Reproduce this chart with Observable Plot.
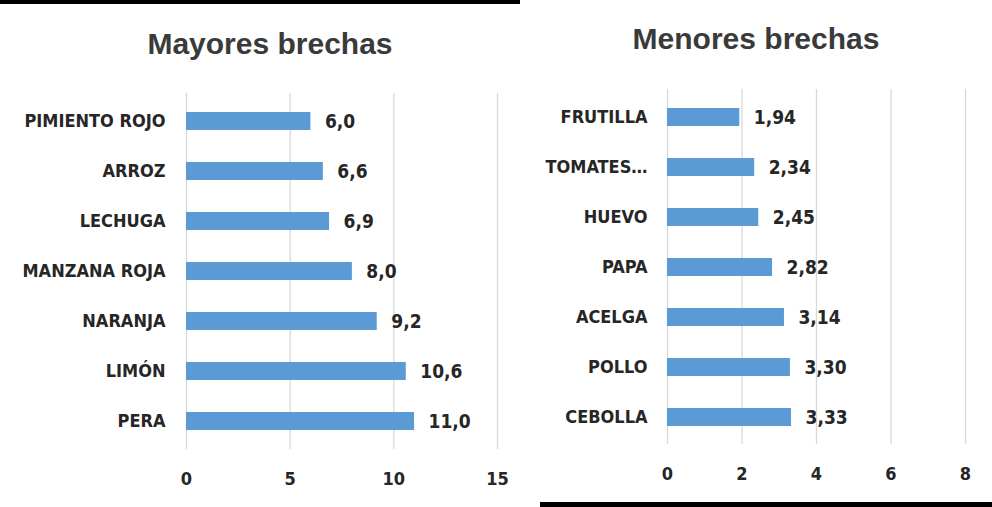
<!DOCTYPE html>
<html>
<head>
<meta charset="utf-8">
<script src="https://cdn.jsdelivr.net/npm/d3@7"></script>
<script src="https://cdn.jsdelivr.net/npm/@observablehq/plot@0.6"></script>
<style>
  html, body { margin: 0; padding: 0; background: #fff; }
  #wrap { position: relative; width: 992px; height: 507px; overflow: hidden; background: #fff; }
  .title { position: absolute; font-family: "Liberation Sans", Arial, sans-serif; font-weight: bold;
           font-size: 30px; line-height: 30px; color: #3a3a3a; white-space: nowrap; transform: translateX(-50%); }
  .chart { position: absolute; top: 0; }
  .bar { position: absolute; background: #000; }
</style>
</head>
<body>
<div id="wrap">
  <div class="bar" style="left:0;top:0;width:520px;height:4px"></div>
  <div class="bar" style="left:540px;top:502px;width:452px;height:5px"></div>
  <div class="title" id="t1" style="left:270px;top:29px"></div>
  <div class="title" id="t2" style="left:756px;top:24px"></div>
  <div class="chart" id="c1" style="left:0"></div>
  <div class="chart" id="c2" style="left:530px"></div>
</div>
<script>
// ---- Data ----
const titleMayores = "Mayores brechas";
const titleMenores = "Menores brechas";

const mayoresCategories = ["PIMIENTO ROJO", "ARROZ", "LECHUGA", "MANZANA ROJA", "NARANJA", "LIMÓN", "PERA"];
const mayoresValues = [6.0, 6.6, 6.9, 8.0, 9.2, 10.6, 11.0];
const mayoresLabels = ["6,0", "6,6", "6,9", "8,0", "9,2", "10,6", "11,0"];
const mayoresTicks = [0, 5, 10, 15];

const menoresCategories = ["FRUTILLA", "TOMATES…", "HUEVO", "PAPA", "ACELGA", "POLLO", "CEBOLLA"];
const menoresValues = [1.94, 2.34, 2.45, 2.82, 3.14, 3.30, 3.33];
const menoresLabels = ["1,94", "2,34", "2,45", "2,82", "3,14", "3,30", "3,33"];
const menoresTicks = [0, 2, 4, 6, 8];

// ---- Styles ----
const barColor = "#5B9BD5";
const gridColor = "#d9d9d9";
const textColor = "#262626";
const font = "'Liberation Sans Narrow', 'DejaVu Sans Condensed', 'Arial Narrow', sans-serif";

document.getElementById("t1").textContent = titleMayores;
document.getElementById("t2").textContent = titleMenores;

function makeChart({cats, vals, labels, ticks, domainMax, width, height, mL, mR, mT, mB, yPad, xPad}) {
  const data = cats.map((c, i) => ({cat: c, value: vals[i], label: labels[i]}));
  return Plot.plot({
    width, height,
    marginLeft: mL, marginRight: mR, marginTop: mT, marginBottom: mB,
    style: {fontFamily: font, fontWeight: "bold", fontSize: "18px", color: textColor, background: "transparent"},
    x: {domain: [0, domainMax], ticks: ticks},
    y: {domain: cats, paddingInner: 0.64, paddingOuter: 0.32},
    marks: [
      Plot.gridX(ticks, {stroke: gridColor, strokeOpacity: 1, strokeWidth: 1.3}),
      Plot.barX(data, {x: "value", y: "cat", fill: barColor}),
      Plot.text(data, {x: "value", y: "cat", text: "label", textAnchor: "start", dx: 14, fill: textColor, fontSize: 19, fontWeight: "bold"}),
      Plot.axisX({ticks: ticks, tickSize: 0, tickPadding: xPad, label: null, fontSize: 18, tickFormat: d => String(d)}),
      Plot.axisY({tickSize: 0, tickPadding: yPad, label: null, fontSize: 18})
    ]
  });
}

document.getElementById("c1").append(makeChart({
  cats: mayoresCategories, vals: mayoresValues, labels: mayoresLabels, ticks: mayoresTicks,
  domainMax: 15, width: 520, height: 507, mL: 186, mR: 23, mT: 93, mB: 58, yPad: 21, xPad: 23
}));
document.getElementById("c2").append(makeChart({
  cats: menoresCategories, vals: menoresValues, labels: menoresLabels, ticks: menoresTicks,
  domainMax: 8, width: 462, height: 507, mL: 137, mR: 27, mT: 89, mB: 63, yPad: 20, xPad: 23
}));
</script>
</body>
</html>
